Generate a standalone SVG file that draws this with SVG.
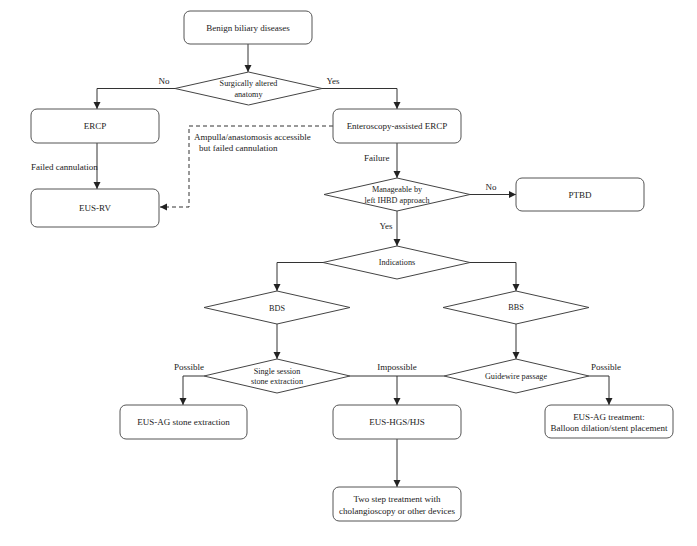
<svg xmlns="http://www.w3.org/2000/svg" width="697" height="546" viewBox="0 0 697 546">
<style>
.box{fill:#fff;stroke:#555;stroke-width:1}
.dia{fill:#fff;stroke:#444;stroke-width:1}
.t{font-family:"Liberation Serif","Times New Roman",serif;fill:#222;text-anchor:middle;font-size:9px}
.d{font-family:"Liberation Serif","Times New Roman",serif;fill:#222;text-anchor:middle;font-size:8.2px}
.l{font-family:"Liberation Serif","Times New Roman",serif;fill:#222;font-size:9px}
.c{fill:none;stroke:#333;stroke-width:1}
.dash{stroke-dasharray:4,3}
</style>
<defs>
<marker id="ah" markerUnits="userSpaceOnUse" markerWidth="8" markerHeight="8" refX="7" refY="3.5" orient="auto">
<path d="M0,0 L7,3.5 L0,7 z" fill="#222"/>
</marker>
</defs>
<rect width="697" height="546" fill="#fff"/>
<g id="connectors">
<path class="c" d="M248,44 V72" marker-end="url(#ah)"/>
<path class="c" d="M175,88.5 H97 V109" marker-end="url(#ah)"/>
<path class="c" d="M322,88.5 H397 V109" marker-end="url(#ah)"/>
<path class="c" d="M97,143 V189" marker-end="url(#ah)"/>
<path class="c dash" d="M333,126 H189 V207 H160" marker-end="url(#ah)"/>
<path class="c" d="M397,143 V178" marker-end="url(#ah)"/>
<path class="c" d="M470,194.5 H516" marker-end="url(#ah)"/>
<path class="c" d="M397,211 V246" marker-end="url(#ah)"/>
<path class="c" d="M323,262.5 H277 V291" marker-end="url(#ah)"/>
<path class="c" d="M470,262.5 H516 V291" marker-end="url(#ah)"/>
<path class="c" d="M277,324 V359" marker-end="url(#ah)"/>
<path class="c" d="M516,324 V359" marker-end="url(#ah)"/>
<path class="c" d="M204,376 H183 V405" marker-end="url(#ah)"/>
<path class="c" d="M350,376 H444"/>
<path class="c" d="M397,376 V405" marker-end="url(#ah)"/>
<path class="c" d="M589,376 H609 V405" marker-end="url(#ah)"/>
<path class="c" d="M397,439 V487" marker-end="url(#ah)"/>
<text class="l" x="164" y="84" text-anchor="middle">No</text>
<text class="l" x="333" y="84" text-anchor="middle">Yes</text>
<text class="l" x="31" y="170">Failed cannulation</text>
<text class="l" x="194" y="140">Ampulla/anastomosis accessible</text>
<text class="l" x="199" y="151">but failed cannulation</text>
<text class="l" x="364" y="161">Failure</text>
<text class="l" x="491" y="190" text-anchor="middle">No</text>
<text class="l" x="386" y="229" text-anchor="middle">Yes</text>
<text class="l" x="189" y="370" text-anchor="middle">Possible</text>
<text class="l" x="397" y="370" text-anchor="middle">Impossible</text>
<text class="l" x="606" y="370" text-anchor="middle">Possible</text>
</g>
<g id="benign">
<rect class="box" x="184" y="11" width="128" height="33" rx="6"/>
<text class="t" x="248" y="31">Benign biliary diseases</text>
</g>
<g id="surgically">
<polygon class="dia" points="248.5,72 322,88.5 248.5,105 175,88.5"/>
<text class="d" x="248.5" y="86">Surgically altered</text>
<text class="d" x="248.5" y="97">anatomy</text>
</g>
<g id="ercp">
<rect class="box" x="31" y="109" width="128" height="34" rx="6"/>
<text class="t" x="95" y="129">ERCP</text>
</g>
<g id="eusrv">
<rect class="box" x="31" y="189" width="128" height="38" rx="6"/>
<text class="t" x="95" y="211">EUS-RV</text>
</g>
<g id="enteroscopy">
<rect class="box" x="333" y="109" width="128" height="34" rx="6"/>
<text class="t" x="397" y="129">Enteroscopy-assisted ERCP</text>
</g>
<g id="manageable">
<polygon class="dia" points="397,178 470,194.5 397,211 324,194.5"/>
<text class="d" x="397" y="192">Manageable by</text>
<text class="d" x="397" y="203">left IHBD approach</text>
</g>
<g id="ptbd">
<rect class="box" x="516" y="178" width="128" height="33" rx="6"/>
<text class="t" x="580" y="198">PTBD</text>
</g>
<g id="indications">
<polygon class="dia" points="397,246 470,262.5 397,279 323,262.5"/>
<text class="d" x="397" y="265">Indications</text>
</g>
<g id="bds">
<polygon class="dia" points="277,291 350,307.5 277,324 204,307.5"/>
<text class="d" x="277" y="311">BDS</text>
</g>
<g id="bbs">
<polygon class="dia" points="516,291 589,307.5 516,324 443,307.5"/>
<text class="d" x="516" y="310">BBS</text>
</g>
<g id="single">
<polygon class="dia" points="277,359 350,376 277,393 204,376"/>
<text class="d" x="277" y="374">Single session</text>
<text class="d" x="277" y="384">stone extraction</text>
</g>
<g id="guidewire">
<polygon class="dia" points="516,359 589,376 516,393 444,376"/>
<text class="d" x="516" y="379">Guidewire passage</text>
</g>
<g id="eusag-stone">
<rect class="box" x="120" y="405" width="127" height="34" rx="6"/>
<text class="t" x="183.5" y="425">EUS-AG stone extraction</text>
</g>
<g id="eushgs">
<rect class="box" x="333" y="405" width="128" height="34" rx="6"/>
<text class="t" x="397" y="425">EUS-HGS/HJS</text>
</g>
<g id="eusag-treatment">
<rect class="box" x="545" y="405" width="128" height="33" rx="6"/>
<text class="t" x="609" y="420">EUS-AG treatment:</text>
<text class="t" x="609" y="431">Balloon dilation/stent placement</text>
</g>
<g id="twostep">
<rect class="box" x="333" y="487" width="128" height="34" rx="6"/>
<text class="t" x="397" y="502">Two step treatment with</text>
<text class="t" x="397" y="514">cholangioscopy or other devices</text>
</g>
</svg>
